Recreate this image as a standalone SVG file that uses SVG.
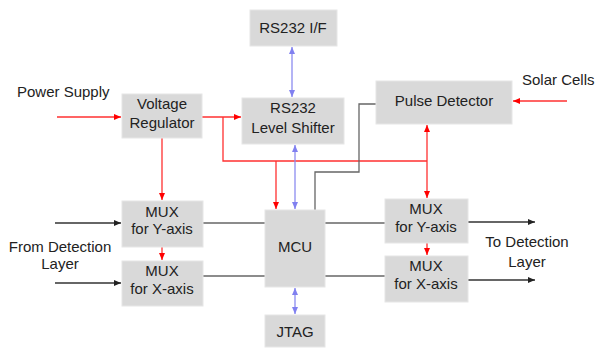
<svg xmlns="http://www.w3.org/2000/svg" width="595" height="349" viewBox="0 0 595 349">
<defs>
<style>
.box{fill:#d9d9d9;stroke:#e6e6e6;stroke-width:1}
.t{font-family:"Liberation Sans",Arial,sans-serif;font-size:15px;fill:#222;text-anchor:middle}
.lbl{font-family:"Liberation Sans",Arial,sans-serif;font-size:15px;fill:#222}
.red{stroke:#ff3030;stroke-width:1.3;fill:none}
.blue{stroke:#8c8cf0;stroke-width:1.3;fill:none}
.gray{stroke:#666;stroke-width:1.3;fill:none}
.blk{stroke:#333;stroke-width:1.3;fill:none}
</style>
<marker id="ar" markerWidth="8" markerHeight="8" refX="7" refY="4" orient="auto" markerUnits="userSpaceOnUse"><path d="M0,1 L7,4 L0,7 z" fill="#ff0000"/></marker>
<marker id="arS" markerWidth="8" markerHeight="8" refX="1" refY="4" orient="auto" markerUnits="userSpaceOnUse"><path d="M8,1 L1,4 L8,7 z" fill="#ff0000"/></marker>
<marker id="ab" markerWidth="8" markerHeight="8" refX="7" refY="4" orient="auto" markerUnits="userSpaceOnUse"><path d="M0,1 L7,4 L0,7 z" fill="#8080f0"/></marker>
<marker id="abS" markerWidth="8" markerHeight="8" refX="1" refY="4" orient="auto" markerUnits="userSpaceOnUse"><path d="M8,1 L1,4 L8,7 z" fill="#8080f0"/></marker>
<marker id="ak" markerWidth="8" markerHeight="8" refX="7" refY="4" orient="auto" markerUnits="userSpaceOnUse"><path d="M0,1 L7,4 L0,7 z" fill="#222"/></marker>
</defs>
<rect width="595" height="349" fill="#fff"/>
<g id="connectors">
<path class="red" d="M57,117 H121" marker-end="url(#ar)"/>
<path class="red" d="M202,117 H241" marker-end="url(#ar)"/>
<path class="red" d="M223,117 V161 H427"/>
<path class="red" d="M276,161 V209" marker-end="url(#ar)"/>
<path class="red" d="M427,161 V125" marker-end="url(#ar)"/>
<path class="red" d="M427,161 V198" marker-end="url(#ar)"/>
<path class="red" d="M567,101 H513" marker-end="url(#ar)"/>
<path class="red" d="M162,138 V200" marker-end="url(#ar)"/>
<path class="red" d="M162,247 V260" marker-end="url(#ar)"/>
<path class="red" d="M427,243 V255" marker-end="url(#ar)"/>
<path class="blue" d="M292,47 V97" marker-start="url(#abS)" marker-end="url(#ab)"/>
<path class="blue" d="M295,145 V209" marker-start="url(#abS)" marker-end="url(#ab)"/>
<path class="blue" d="M295,288 V314" marker-start="url(#abS)" marker-end="url(#ab)"/>
<path class="gray" d="M376,104 H359 V172 H315 V210"/>
<path class="gray" d="M203,223 H265"/>
<path class="gray" d="M203,276 H265"/>
<path class="gray" d="M325,223 H385"/>
<path class="gray" d="M325,276 H385"/>
<path class="blk" d="M55,223 H121" marker-end="url(#ak)"/>
<path class="blk" d="M55,283 H121" marker-end="url(#ak)"/>
<path class="blk" d="M468,222 H535" marker-end="url(#ak)"/>
<path class="blk" d="M468,280 H535" marker-end="url(#ak)"/>
</g>
<g id="rs232if"><rect class="box" x="250" y="10" width="87" height="36"/><text class="t" x="293" y="33">RS232 I/F</text></g>
<g id="levelshifter"><rect class="box" x="242" y="98" width="102" height="46"/><text class="t" x="293" y="113">RS232</text><text class="t" x="293" y="133">Level Shifter</text></g>
<g id="vreg"><rect class="box" x="122" y="94" width="80" height="44"/><text class="t" x="162" y="109">Voltage</text><text class="t" x="162" y="128">Regulator</text></g>
<g id="pulse"><rect class="box" x="376" y="81" width="136" height="43"/><text class="t" x="444" y="106">Pulse Detector</text></g>
<g id="muxyl"><rect class="box" x="122" y="201" width="81" height="46"/><text class="t" x="162" y="217">MUX</text><text class="t" x="162" y="234">for Y-axis</text></g>
<g id="muxxl"><rect class="box" x="122" y="261" width="81" height="45"/><text class="t" x="162" y="276">MUX</text><text class="t" x="162" y="294">for X-axis</text></g>
<g id="mcu"><rect class="box" x="265" y="210" width="60" height="77"/><text class="t" x="295" y="252">MCU</text></g>
<g id="jtag"><rect class="box" x="265" y="315" width="60" height="32"/><text class="t" x="295" y="337">JTAG</text></g>
<g id="muxyr"><rect class="box" x="385" y="199" width="83" height="44"/><text class="t" x="426" y="214">MUX</text><text class="t" x="426" y="232">for Y-axis</text></g>
<g id="muxxr"><rect class="box" x="385" y="256" width="83" height="46"/><text class="t" x="426" y="271">MUX</text><text class="t" x="426" y="289">for X-axis</text></g>
<g id="labels">
<text class="lbl" x="17" y="97">Power Supply</text>
<text class="lbl" x="522" y="85">Solar Cells</text>
<text class="t" x="60" y="252">From Detection</text>
<text class="t" x="60" y="269">Layer</text>
<text class="t" x="527" y="247">To Detection</text>
<text class="t" x="527" y="267">Layer</text>
</g>
</svg>
